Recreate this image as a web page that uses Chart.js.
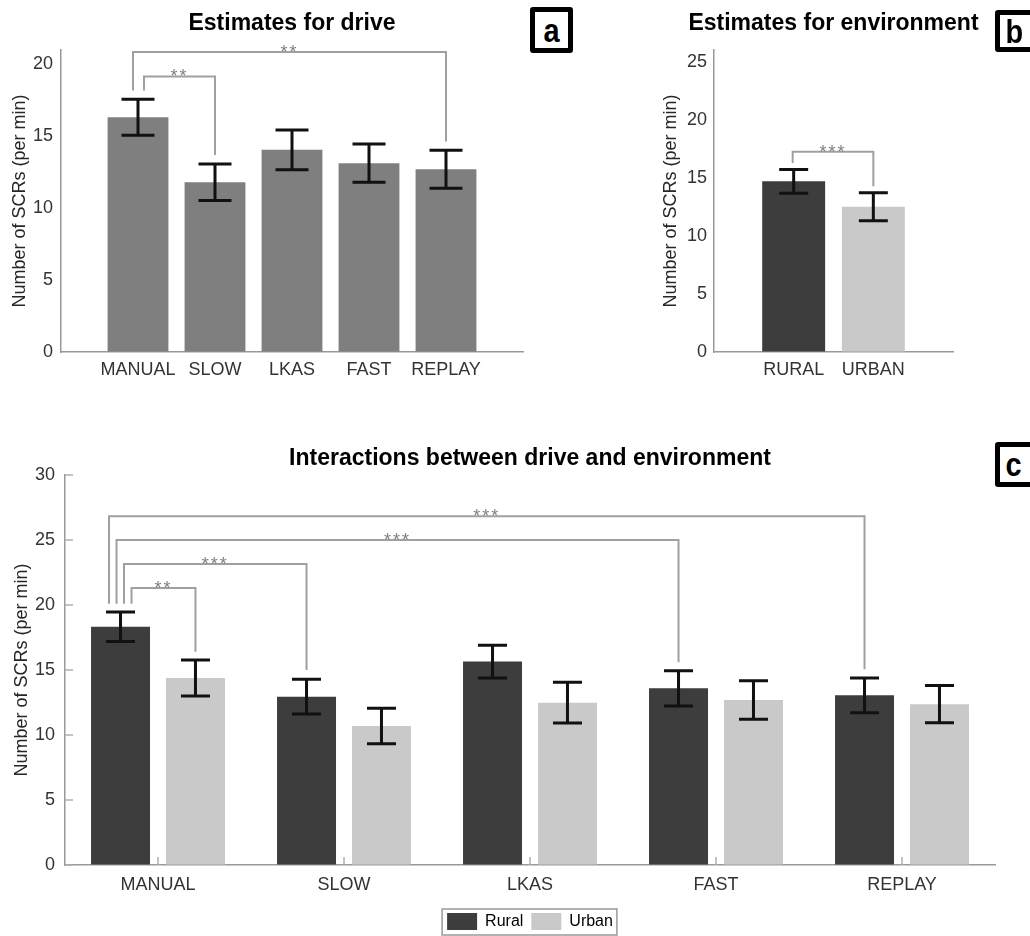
<!DOCTYPE html>
<html>
<head>
<meta charset="utf-8">
<title>SCR estimates</title>
<script src="https://cdn.jsdelivr.net/npm/chart.js@4.4.0/dist/chart.umd.min.js"></script>
<style>
body{margin:0;background:#fff;width:1030px;height:936px;overflow:hidden;position:relative;}
.panel{position:absolute;}
.tag{position:absolute;box-sizing:border-box;border:5px solid #000;border-radius:3px;background:#fff;
     display:flex;align-items:center;justify-content:center;font:bold 34px "Liberation Sans",Arial,sans-serif;color:#000;}
.tag span{display:inline-block;transform:scaleX(0.85);}
</style>
</head>
<body>
<div class="panel" style="left:0;top:0;"><canvas id="chartA" width="590" height="390"></canvas></div>
<div class="panel" style="left:650px;top:0;"><canvas id="chartB" width="380" height="390"></canvas></div>
<div class="panel" style="left:0;top:430px;"><canvas id="chartC" width="1030" height="510"></canvas></div>
<div class="tag" style="left:530px;top:7px;width:43px;height:46px;"><span>a</span></div>
<div class="tag" style="left:995px;top:10px;width:46px;height:42px;justify-content:flex-start;padding-left:4px;"><span>b</span></div>
<div class="tag" style="left:995px;top:442px;width:46px;height:45px;justify-content:flex-start;padding-left:4px;"><span>c</span></div>
<script>
const FONT = '"Liberation Sans", Arial, sans-serif';

// panel a - estimates for drive
const driveCats = ['MANUAL', 'SLOW', 'LKAS', 'FAST', 'REPLAY'];
const driveMean = [16.33, 11.80, 14.06, 13.13, 12.71];
const driveErr = [1.25, 1.27, 1.38, 1.33, 1.32];

// panel b - estimates for environment
const envCats = ['RURAL', 'URBAN'];
const envMean = [14.69, 12.51];
const envErr = [1.02, 1.20];
const envColors = ['#3d3d3d', '#c9c9c9'];

// panel c - drive x environment
const ruralMean = [18.33, 12.95, 15.65, 13.59, 13.05];
const ruralErr = [1.13, 1.33, 1.26, 1.35, 1.33];
const urbanMean = [14.38, 10.69, 12.49, 12.69, 12.37];
const urbanErr = [1.38, 1.36, 1.57, 1.48, 1.43];

// significance brackets (values on the y axis)
const driveSig = [
    {from: 'MANUAL', to: 'SLOW', top: 19.16, fromY: 18.19, toY: 13.7, text: '**', nudge: 6},
    {from: 'MANUAL', to: 'REPLAY', top: 20.86, fromY: 18.19, toY: 14.63, text: '**', nudge: -5}
];
const envSig = [
    {from: 'RURAL', to: 'URBAN', top: 17.23, fromY: 16.28, toY: 14.26, text: '***', nudge: -1}
];
const interSig = [
    {from: 'MANUAL', fromSet: 0, to: 'MANUAL', toSet: 1, top: 21.3, fromY: 20.1, toY: 16.4, text: '**', nudge: 11},
    {from: 'MANUAL', fromSet: 0, to: 'SLOW', toSet: 0, top: 23.15, fromY: 20.1, toY: 15.0, text: '***', nudge: 3.5},
    {from: 'MANUAL', fromSet: 0, to: 'FAST', toSet: 0, top: 25.0, fromY: 20.1, toY: 15.6, text: '***', nudge: -4},
    {from: 'MANUAL', fromSet: 0, to: 'REPLAY', toSet: 0, top: 26.82, fromY: 20.1, toY: 15.05, text: '***', nudge: -11.5}
];

const errorBars = {
    id: 'errorBars',
    afterDatasetsDraw(chart, args, opts) {
        const ctx = chart.ctx;
        const y = chart.scales.y;
        chart.data.datasets.forEach((ds, di) => {
            if (!ds.errors) return;
            const meta = chart.getDatasetMeta(di);
            meta.data.forEach((bar, i) => {
                const v = ds.data[i], e = ds.errors[i];
                if (v == null || e == null) return;
                const top = y.getPixelForValue(v + e);
                const bot = y.getPixelForValue(v - e);
                ctx.save();
                ctx.strokeStyle = '#111';
                ctx.lineWidth = 3;
                ctx.beginPath();
                ctx.moveTo(bar.x, top); ctx.lineTo(bar.x, bot);
                ctx.moveTo(bar.x - opts.cap, top); ctx.lineTo(bar.x + opts.cap, top);
                ctx.moveTo(bar.x - opts.cap, bot); ctx.lineTo(bar.x + opts.cap, bot);
                ctx.stroke();
                ctx.restore();
            });
        });
    }
};

const sigBrackets = {
    id: 'sigBrackets',
    afterDatasetsDraw(chart, args, opts) {
        if (!opts.items) return;
        const ctx = chart.ctx;
        const y = chart.scales.y;
        const labels = chart.data.labels;
        const barX = (lab, set) => chart.getDatasetMeta(set || 0).data[labels.indexOf(lab)].x;
        opts.items.forEach(b => {
            const x1 = barX(b.from, b.fromSet) + b.nudge;
            const x2 = barX(b.to, b.toSet);
            const yt = y.getPixelForValue(b.top);
            ctx.save();
            ctx.strokeStyle = '#a0a0a0';
            ctx.lineWidth = 2;
            ctx.beginPath();
            ctx.moveTo(x1, y.getPixelForValue(b.fromY));
            ctx.lineTo(x1, yt);
            ctx.lineTo(x2, yt);
            ctx.lineTo(x2, y.getPixelForValue(b.toY));
            ctx.stroke();
            ctx.fillStyle = '#808080';
            ctx.font = '18px ' + FONT;
            ctx.letterSpacing = '2px';
            ctx.textAlign = 'center';
            ctx.textBaseline = 'alphabetic';
            ctx.fillText(b.text, (x1 + x2) / 2, yt + 6);
            ctx.restore();
        });
    }
};

// title centred over the plot area, allowed to run wider than it (panel b)
const wideTitle = {
    id: 'wideTitle',
    afterDraw(chart, args, opts) {
        if (!opts.text) return;
        const ctx = chart.ctx, area = chart.chartArea;
        ctx.save();
        ctx.font = 'bold 23px ' + FONT;
        ctx.fillStyle = '#000';
        ctx.textAlign = 'center';
        ctx.textBaseline = 'middle';
        ctx.fillText(opts.text, (area.left + area.right) / 2, area.top - 26);
        ctx.restore();
    }
};

// small inward ticks + framed legend for panel c
const innerTicks = {
    id: 'innerTicks',
    afterDraw(chart) {
        const ctx = chart.ctx, area = chart.chartArea;
        const x = chart.scales.x, y = chart.scales.y;
        ctx.save();
        ctx.strokeStyle = '#b0b0b0';
        ctx.lineWidth = 1.5;
        ctx.beginPath();
        y.ticks.forEach(t => {
            const py = y.getPixelForValue(t.value);
            ctx.moveTo(area.left, py); ctx.lineTo(area.left + 8, py);
        });
        x.ticks.forEach((t, i) => {
            const px = x.getPixelForTick(i);
            ctx.moveTo(px, area.bottom); ctx.lineTo(px, area.bottom - 8);
        });
        ctx.stroke();
        const boxes = chart.legend.legendHitBoxes;
        if (boxes && boxes.length) {
            const first = boxes[0], last = boxes[boxes.length - 1];
            ctx.strokeStyle = '#999';
            ctx.lineWidth = 1.5;
            ctx.strokeRect(first.left - 5, first.top - 4, last.left + last.width - first.left + 9, first.height + 9);
        }
        ctx.restore();
    }
};

function yAxis(max, width, tickPad, titlePad) {
    return {
        min: 0,
        max: max,
        grid: {drawOnChartArea: false, drawTicks: false},
        border: {color: '#999', width: 1.5},
        ticks: {stepSize: 5, includeBounds: false, padding: tickPad, color: '#333', font: {size: 18, family: FONT}},
        title: {display: true, text: 'Number of SCRs (per min)', color: '#262626', font: {size: 18, family: FONT}, padding: {top: titlePad, bottom: 0}},
        afterFit(s) { s.width = width; }
    };
}
function xAxis(height, pad, offset) {
    return {
        offset: offset,
        grid: {drawOnChartArea: false, drawTicks: false},
        border: {color: '#999', width: 1.5},
        ticks: {autoSkip: false, maxRotation: 0, padding: pad, color: '#333', font: {size: 18, family: FONT}},
        afterFit(s) { s.height = height; }
    };
}
function titleOpts(text, top, bottom) {
    return {display: true, text: text, fullSize: false, color: '#000', font: {size: 23, weight: 'bold', family: FONT}, padding: {top: top, bottom: bottom}};
}

new Chart(document.getElementById('chartA'), {
    type: 'bar',
    data: {
        labels: ['', ...driveCats, ''],
        datasets: [{
            label: 'Drive',
            data: [null, ...driveMean, null],
            errors: [null, ...driveErr, null],
            backgroundColor: '#7f7f7f',
            barPercentage: 0.79,
            categoryPercentage: 1
        }]
    },
    options: {
        responsive: false,
        animation: false,
        layout: {padding: {left: 0, right: 67, top: 0, bottom: 0}},
        scales: {x: xAxis(38, 7, false), y: yAxis(21, 61, 8, 9)},
        plugins: {
            legend: {display: false},
            tooltip: {enabled: false},
            title: titleOpts('Estimates for drive', 10, 12.4),
            errorBars: {cap: 16.5},
            sigBrackets: {items: driveSig}
        }
    },
    plugins: [errorBars, sigBrackets]
});

new Chart(document.getElementById('chartB'), {
    type: 'bar',
    data: {
        labels: ['', ...envCats, ''],
        datasets: [{
            label: 'Environment',
            data: [null, ...envMean, null],
            errors: [null, ...envErr, null],
            backgroundColor: ['#fff', ...envColors, '#fff'],
            barPercentage: 0.79,
            categoryPercentage: 1
        }]
    },
    options: {
        responsive: false,
        animation: false,
        layout: {padding: {left: 0, right: 77, top: 50, bottom: 0}},
        scales: {x: xAxis(38, 7, false), y: yAxis(26, 64, 7, 10.7)},
        plugins: {
            legend: {display: false},
            tooltip: {enabled: false},
            title: {display: false},
            wideTitle: {text: 'Estimates for environment'},
            errorBars: {cap: 14.5},
            sigBrackets: {items: envSig}
        }
    },
    plugins: [errorBars, sigBrackets, wideTitle]
});

new Chart(document.getElementById('chartC'), {
    type: 'bar',
    data: {
        labels: driveCats,
        datasets: [{
            label: 'Rural',
            data: ruralMean,
            errors: ruralErr,
            backgroundColor: envColors[0],
            barPercentage: 0.787,
            categoryPercentage: 0.806
        }, {
            label: 'Urban',
            data: urbanMean,
            errors: urbanErr,
            backgroundColor: envColors[1],
            barPercentage: 0.787,
            categoryPercentage: 0.806
        }]
    },
    options: {
        responsive: false,
        animation: false,
        layout: {padding: {left: 0, right: 35, top: 0, bottom: 0}},
        scales: {x: xAxis(40, 9, true), y: yAxis(30, 65, 10, 11)},
        plugins: {
            legend: {
                display: true,
                position: 'bottom',
                fullSize: false,
                labels: {boxWidth: 30, boxHeight: 17, padding: 8, color: '#000', font: {size: 16, family: FONT}}
            },
            tooltip: {enabled: false},
            title: titleOpts('Interactions between drive and environment', 15.2, 2.2),
            errorBars: {cap: 14.5},
            sigBrackets: {items: interSig}
        }
    },
    plugins: [errorBars, sigBrackets, innerTicks]
});
</script>
</body>
</html>
